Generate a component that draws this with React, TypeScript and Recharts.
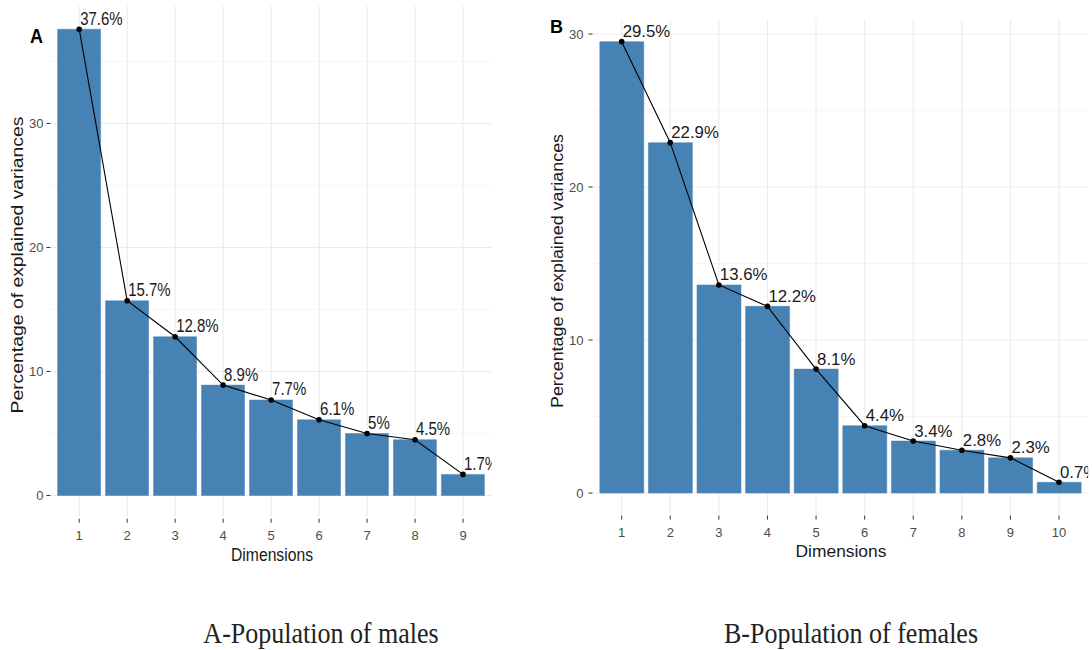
import React from 'react';
import { ComposedChart, Bar, Line, XAxis, YAxis, CartesianGrid, LabelList } from 'recharts';

// scree data
const dimsA = ['1', '2', '3', '4', '5', '6', '7', '8', '9'];
const varA = [37.6, 15.7, 12.8, 8.9, 7.7, 6.1, 5, 4.5, 1.7];
const dimsB = ['1', '2', '3', '4', '5', '6', '7', '8', '9', '10'];
const varB = [29.5, 22.9, 13.6, 12.2, 8.1, 4.4, 3.4, 2.8, 2.3, 0.7];
const majorTicks = [0, 10, 20, 30];
const minorA = [5, 15, 25, 35];
const minorB = [5, 15, 25];

const FONT = '"Liberation Sans", Arial, Helvetica, sans-serif';
const SERIF = '"Liberation Serif", "Times New Roman", serif';
const BAR_FILL = '#4682B4';

interface PanelProps {
  id: string;
  dims: string[];
  values: number[];
  minor: number[];
  left: number;
  width: number;
  height: number;
  margin: { top: number; right: number; bottom: number; left: number };
  yWidth: number;
  xHeight: number;
  pad: number;
  domain: [number, number];
  labelSize: number;
  stretch: number;
  yTickMargin: number;
}

const ScreePanel: React.FC<PanelProps> = (p) => {
  const data = p.dims.map((d, i) => ({ dim: d, value: p.values[i] }));
  const plotX = p.margin.left + p.yWidth;
  const plotY = p.margin.top;
  const plotW = p.width - plotX - p.margin.right;
  const plotH = p.height - plotY - p.xHeight - p.margin.bottom;
  const clipId = `clip-${p.id}`;

  const pointLabel = (props: any) => {
    const vb = props.viewBox || {};
    const x = vb.x ?? props.x;
    const y = vb.y ?? props.y;
    return (
      <g clipPath={`url(#${clipId})`}>
        <text
          transform={`translate(${x + 1},${y - 4.5}) scale(1,${p.stretch})`}
          fontSize={p.labelSize}
          fontFamily={FONT}
          fill="#1a1a1a"
        >
          {`${props.value}%`}
        </text>
      </g>
    );
  };

  return (
    <div style={{ position: 'absolute', left: p.left, top: 0 }}>
      <ComposedChart width={p.width} height={p.height} data={data} margin={p.margin} barCategoryGap="5%">
        <defs>
          <clipPath id={clipId}>
            <rect x={plotX} y={plotY} width={plotW} height={plotH} />
          </clipPath>
        </defs>
        <CartesianGrid
          vertical={false}
          horizontalValues={p.minor}
          syncWithTicks
          stroke="#f0f0f0"
          strokeWidth={0.7}
        />
        <CartesianGrid syncWithTicks stroke="#ebebeb" strokeWidth={1.1} />
        <XAxis
          dataKey="dim"
          type="category"
          interval={0}
          height={p.xHeight}
          padding={{ left: p.pad, right: p.pad }}
          axisLine={false}
          tickLine={{ stroke: '#333333' }}
          tickSize={4}
          tickMargin={8}
          tick={{ fill: '#4d4d4d', fontSize: 13, fontFamily: FONT }}
        />
        <YAxis
          type="number"
          width={p.yWidth}
          domain={p.domain}
          allowDataOverflow
          ticks={majorTicks}
          axisLine={false}
          tickLine={{ stroke: '#333333' }}
          tickSize={4}
          tickMargin={p.yTickMargin}
          tick={{ fill: '#4d4d4d', fontSize: 13, fontFamily: FONT }}
        />
        <Bar dataKey="value" fill={BAR_FILL} stroke={BAR_FILL} strokeWidth={0.5} isAnimationActive={false} />
        <Line
          dataKey="value"
          type="linear"
          stroke="#000000"
          strokeWidth={1.1}
          dot={{ r: 2.8, fill: '#000000', stroke: '#000000', strokeWidth: 0 }}
          activeDot={false}
          isAnimationActive={false}
        >
          <LabelList dataKey="value" content={pointLabel} />
        </Line>
      </ComposedChart>
    </div>
  );
};

export default function App() {
  return (
    <div
      style={{
        position: 'absolute',
        left: 0,
        top: 0,
        width: 1092,
        height: 650,
        background: '#ffffff',
        fontFamily: FONT,
      }}
    >
      <ScreePanel
        id="a"
        dims={dimsA}
        values={varA}
        minor={minorA}
        left={0}
        width={500}
        height={565}
        margin={{ top: 5.9, right: 8.2, bottom: 0, left: 0 }}
        yWidth={50.4}
        xHeight={46.2}
        pad={4.8}
        domain={[-1.88, 39.48]}
        labelSize={15}
        stretch={1.22}
        yTickMargin={3}
      />
      <ScreePanel
        id="b"
        dims={dimsB}
        values={varB}
        minor={minorB}
        left={540}
        width={552}
        height={565}
        margin={{ top: 19.1, right: 3.8, bottom: 0, left: 0 }}
        yWidth={52.5}
        xHeight={49.4}
        pad={4.86}
        domain={[-1.475, 30.975]}
        labelSize={16.8}
        stretch={1}
        yTickMargin={5}
      />
      {/* titles, panel letters and captions */}
      <svg
        width={1092}
        height={650}
        style={{ position: 'absolute', left: 0, top: 0, pointerEvents: 'none' }}
      >
        <text
          transform="translate(30,43) scale(1,1.15)"
          fontSize={18}
          fontWeight="bold"
          fontFamily={FONT}
          fill="#000"
        >
          A
        </text>
        <text x={550} y={33} fontSize={18} fontWeight="bold" fontFamily={FONT} fill="#000">
          B
        </text>
        <text
          transform="translate(23,265) rotate(-90)"
          textAnchor="middle"
          fontSize={16}
          fontFamily={FONT}
          fill="#1a1a1a"
          textLength={297}
          lengthAdjust="spacingAndGlyphs"
        >
          Percentage of explained variances
        </text>
        <text
          transform="translate(563,271) rotate(-90)"
          textAnchor="middle"
          fontSize={16}
          fontFamily={FONT}
          fill="#1a1a1a"
          textLength={274}
          lengthAdjust="spacingAndGlyphs"
        >
          Percentage of explained variances
        </text>
        <text
          transform="translate(272,561) scale(1,1.12)"
          textAnchor="middle"
          fontSize={15.7}
          fontFamily={FONT}
          fill="#1a1a1a"
        >
          Dimensions
        </text>
        <text x={841} y={557} textAnchor="middle" fontSize={17.4} fontFamily={FONT} fill="#1a1a1a">
          Dimensions
        </text>
        <text
          transform="translate(321,643) scale(1,1.15)"
          textAnchor="middle"
          fontSize={26}
          fontFamily={SERIF}
          fill="#222"
        >
          A-Population of males
        </text>
        <text
          transform="translate(851,643) scale(1,1.15)"
          textAnchor="middle"
          fontSize={26}
          fontFamily={SERIF}
          fill="#222"
        >
          B-Population of females
        </text>
      </svg>
    </div>
  );
}
